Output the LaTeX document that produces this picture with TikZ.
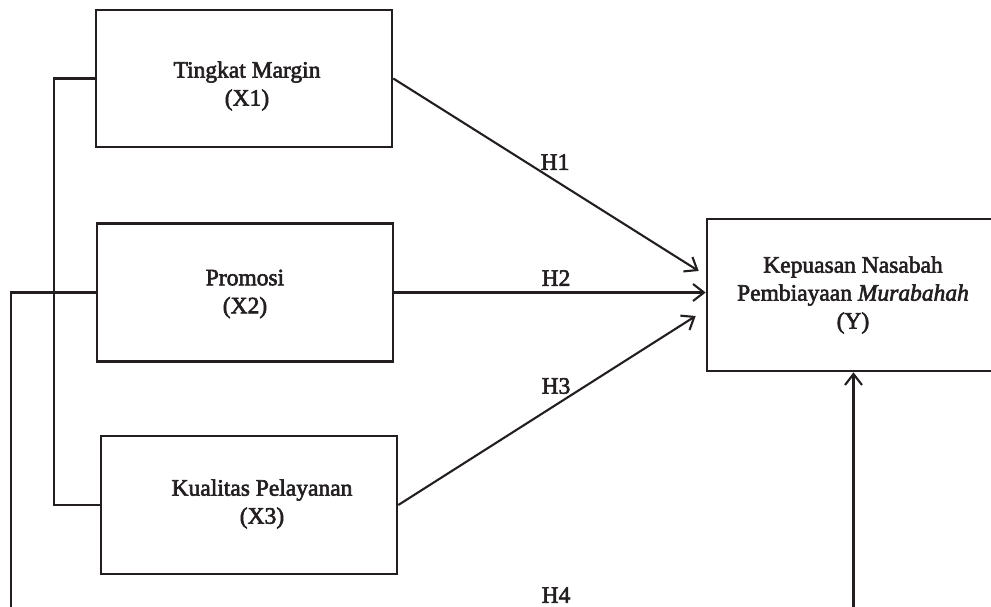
\documentclass[tikz,border=0pt]{standalone}
\usepackage{fontspec}
\setmainfont{Liberation Serif}
\newfontfamily\heavy{Liberation Serif}[FakeBold=2.5,ItalicFeatures={FakeBold=2.5}]
\usetikzlibrary{arrows.meta,calc}
\definecolor{ink}{RGB}{35,31,32}
\begin{document}
\begin{tikzpicture}[x=1pt,y=-1pt,
  box/.style={draw=ink,line width=2.6pt,inner sep=0pt},
  conn/.style={draw=ink,line width=2.1pt},
  arr/.style={conn,-{Straight Barb[length=11pt,width=17pt]}},
  txt/.style={text=ink,font=\heavy\fontsize{23.5}{28}\selectfont,align=center,inner sep=0pt},
  lab/.style={text=ink,font=\heavy\fontsize{23.5}{28}\selectfont,inner sep=0pt}]
\useasboundingbox (0,0) rectangle (991,607);
\clip (0,0) rectangle (991,607);
% boxes
\node[box,minimum width=296pt,minimum height=137pt] (x1) at (244,78.5) {};
\node[box,minimum width=296pt,minimum height=138pt] (x2) at (245,292.5) {};
\node[box,minimum width=296pt,minimum height=138pt] (x3) at (249,505) {};
\node[box,minimum width=293pt,minimum height=152pt] (y) at (853.5,295) {};
% texts
\node[txt] (t1) at (247,86) {Tingkat Margin\\(X1)};
\node[txt] (t2) at (245,294) {Promosi\\(X2)};
\node[txt] (t3) at (262,504) {Kualitas Pelayanan\\(X3)};
\node[txt] (ty) at (853,295) {Kepuasan Nasabah\\Pembiayaan \textit{Murabahah}\\(Y)};
% bracket between X1 and X3
\draw[conn] (x1.west) -- ++(-41,0) |- (x3.west);
% H4 path from X2 to Y
\coordinate (c1) at (11,625);
\coordinate (c2) at (853.5,625);
\draw[arr] (x2.west) -| (c1) -- (c2) -- (y.south);
% H1, H2, H3
\draw[arr] (x1.east) -- ($(y.west)+(-7,-24)$);
\draw[arr] (x2.east) -- ($(y.west)+(0,-2.5)$);
\draw[arr] (x3.east) -- ($(y.west)+(-10,21)$);
% labels
\node[lab] (h1) at (555,162) {H1};
\node[lab] (h2) at (556,278) {H2};
\node[lab] (h3) at (556,386) {H3};
\node[lab] (h4) at (556,595) {H4};
\end{tikzpicture}
\end{document}
